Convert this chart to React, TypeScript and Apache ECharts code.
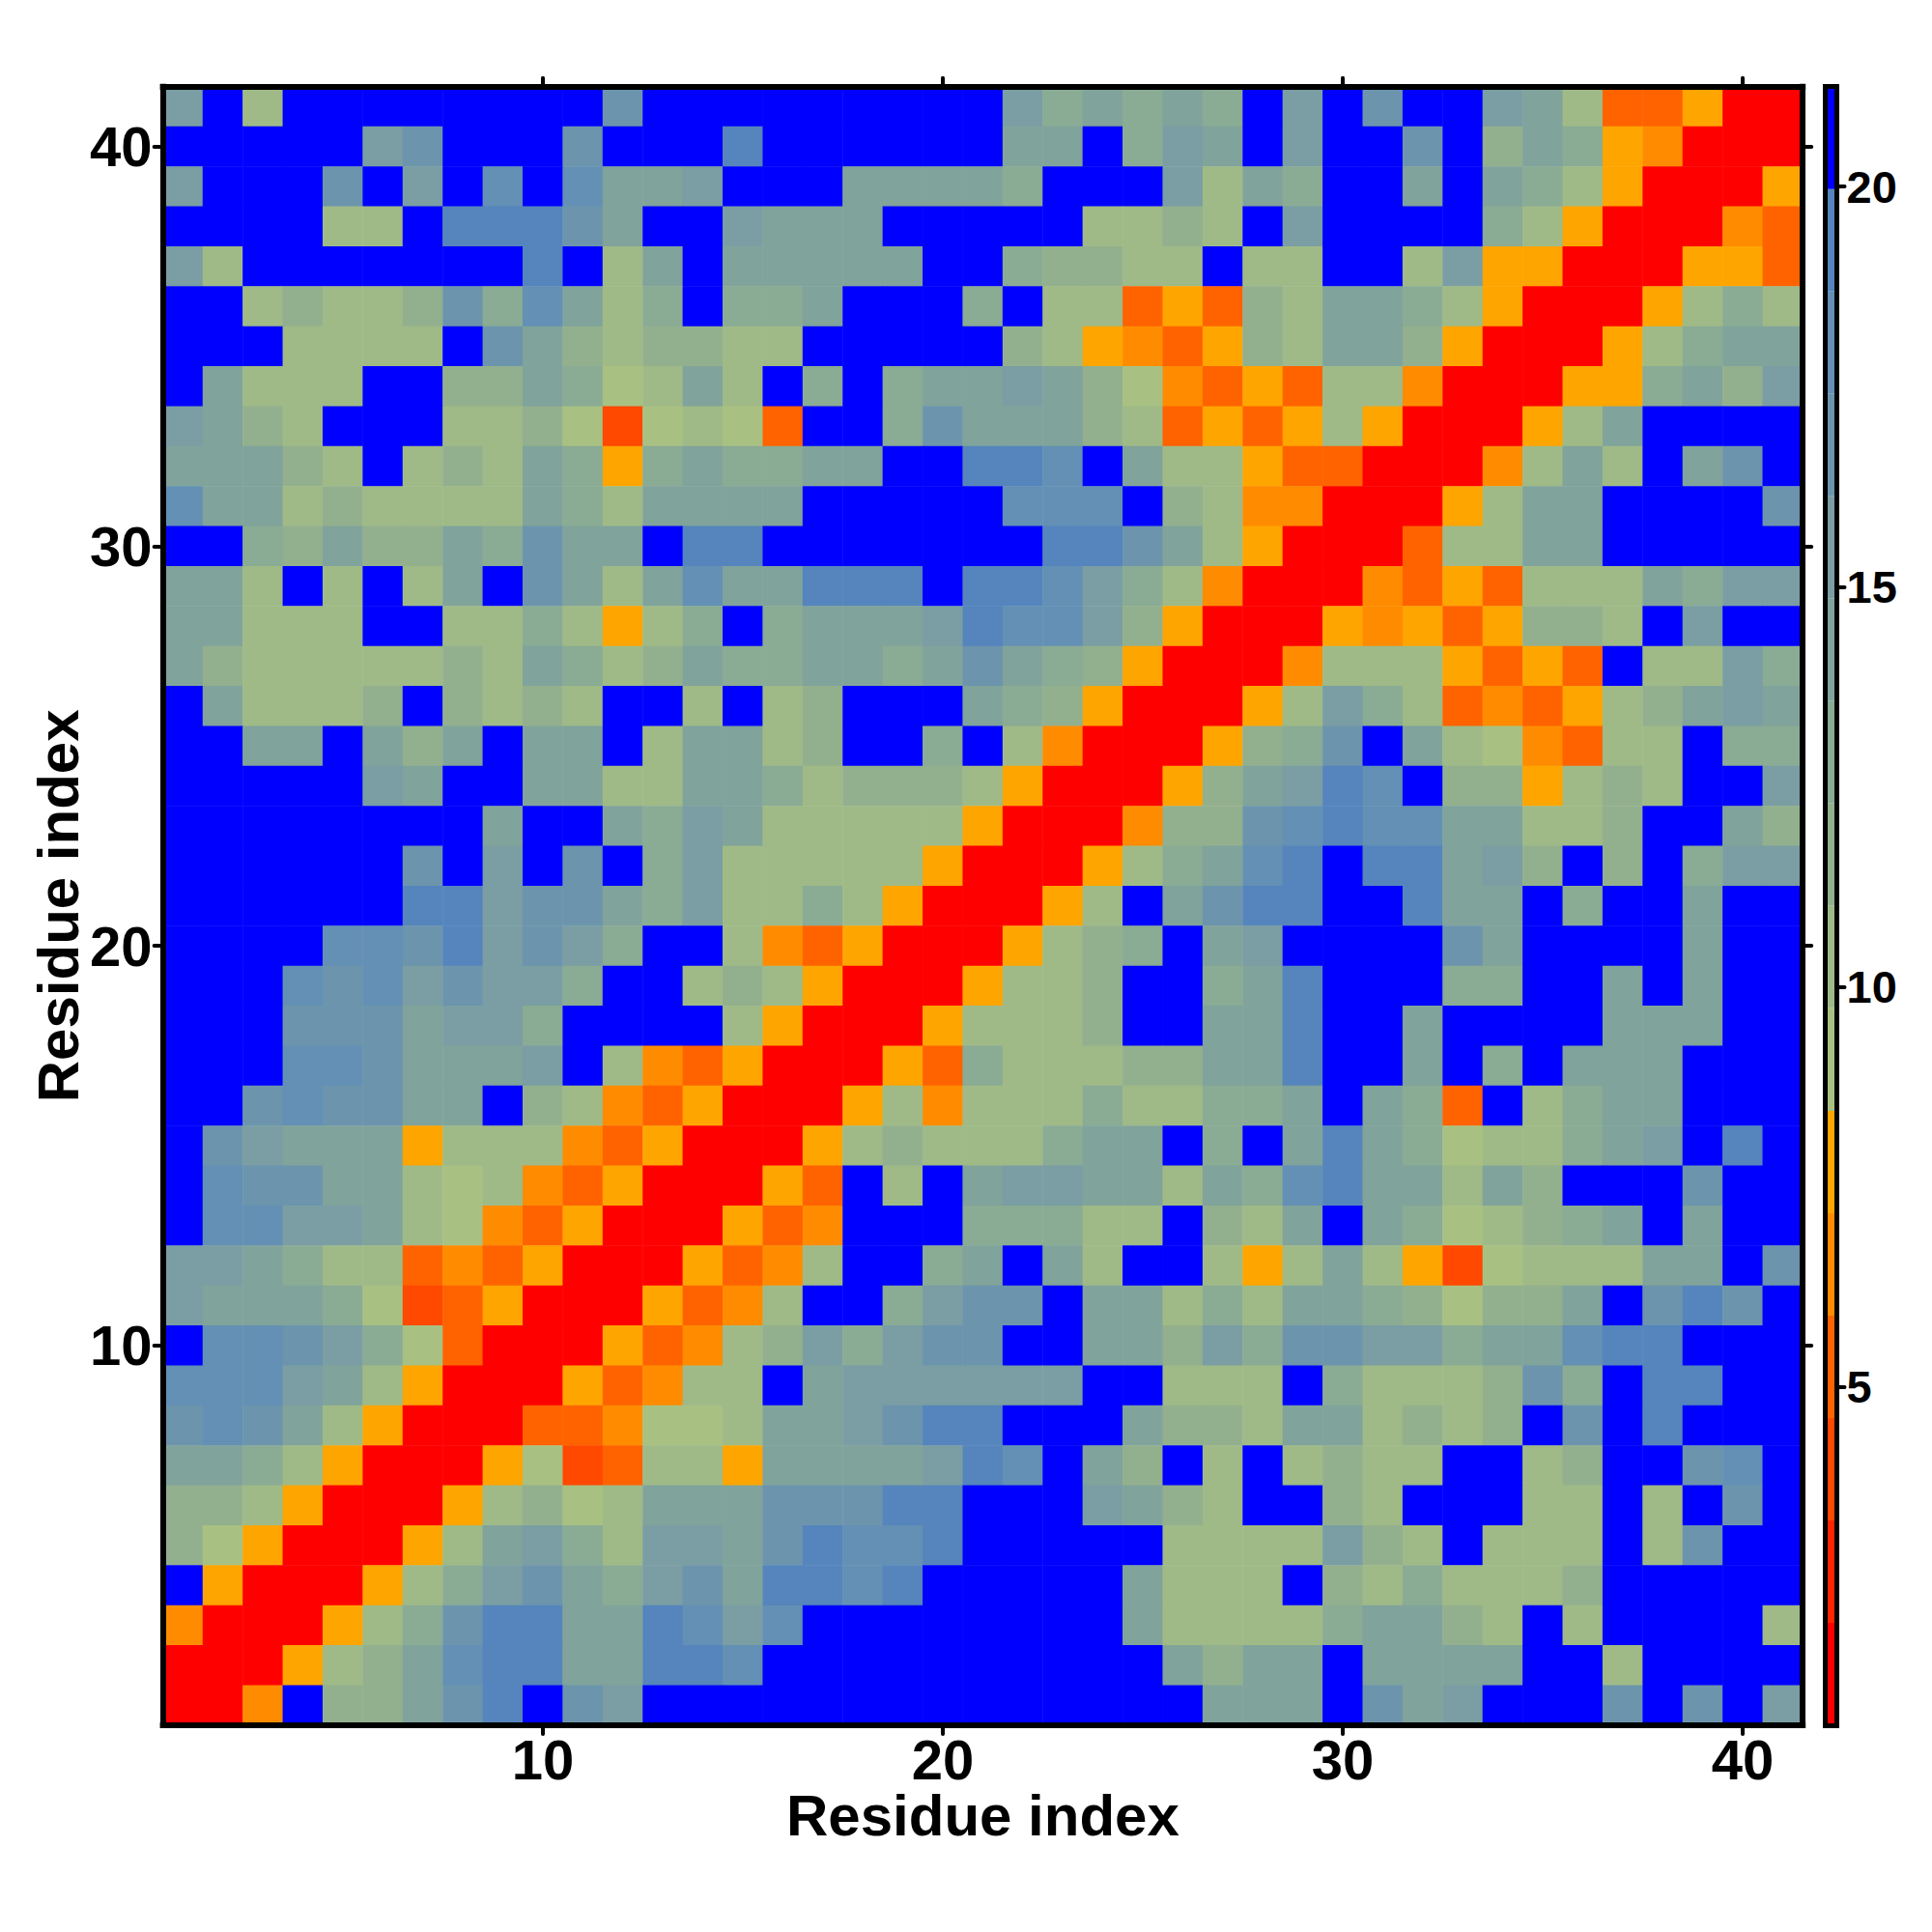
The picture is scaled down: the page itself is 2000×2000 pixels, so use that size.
import React, { useEffect, useRef } from "react";
import * as echarts from "echarts";

// Residue numbers 1..41
const residues: string[] = Array.from({ length: 41 }, (_, i) => String(i + 1));

// Distance values, one list per row, from residue 41 (top) to residue 1 (bottom)
const r41 = [15,21,10,21,21,21,21,21,21,21,21,17,21,21,21,21,21,21,21,21,21,15,13,14,13,14,13,21,15,21,17,21,21,15,14,10,5,5,8,1,1];
const r40 = [21,21,21,21,21,15,17,21,21,21,17,21,21,21,19,21,21,21,21,21,21,14,14,21,13,15,14,21,15,21,21,17,21,12,14,13,8,6,1,1,1];
const r39 = [15,21,21,21,17,21,15,21,18,21,18,14,14,15,21,21,21,14,14,14,14,13,21,21,21,15,10,14,13,21,21,14,21,14,13,10,8,1,1,1,8];
const r38 = [21,21,21,21,10,10,21,19,19,19,17,14,21,21,15,14,14,14,21,21,21,21,21,10,10,12,10,21,15,21,21,21,21,13,10,8,1,1,1,6,5];
const r37 = [15,10,21,21,21,21,21,21,21,19,21,10,14,21,14,14,14,14,14,21,21,13,12,12,10,10,21,10,10,21,21,10,15,8,8,1,1,1,8,8,5];
const r36 = [21,21,10,12,10,10,12,17,13,18,14,10,13,21,13,13,14,21,21,21,13,21,10,10,5,8,5,12,10,14,14,13,10,8,1,1,1,8,10,13,10];
const r35 = [21,21,21,10,10,10,10,21,17,14,12,10,12,12,10,10,21,21,21,21,21,12,10,8,6,5,8,12,10,14,14,12,8,1,1,1,8,10,13,14,14];
const r34 = [21,14,10,10,10,21,21,12,12,14,13,9,10,14,10,21,13,21,13,14,14,15,14,12,9,6,5,8,5,10,10,6,1,1,1,8,8,13,14,12,15];
const r33 = [15,14,12,10,21,21,21,10,10,12,9,4,9,10,9,5,21,21,13,17,14,14,14,12,10,5,8,5,8,10,8,1,1,1,8,10,14,21,21,21,21];
const r32 = [14,14,14,12,10,21,10,12,10,14,13,8,13,14,13,13,14,14,21,21,19,19,18,21,14,10,10,8,5,5,1,1,1,6,10,14,10,21,14,17,21];
const r31 = [18,14,14,10,12,10,10,10,10,14,13,10,14,14,14,14,21,21,21,21,21,18,18,18,21,12,10,6,6,1,1,1,8,10,14,14,21,21,21,21,17];
const r30 = [21,21,13,12,14,12,12,14,13,17,14,14,21,19,19,21,21,21,21,21,21,21,19,19,17,14,10,8,1,1,1,5,10,10,14,14,21,21,21,21,21];
const r29 = [14,14,10,21,10,21,10,14,21,17,14,10,14,18,14,14,19,19,19,21,19,19,18,15,13,10,6,1,1,1,6,5,8,5,10,10,10,14,13,15,15];
const r28 = [14,14,10,10,10,21,21,10,10,13,10,8,10,13,21,13,14,14,14,15,19,18,18,15,12,8,1,1,1,8,6,8,5,8,12,12,10,21,15,21,21];
const r27 = [14,12,10,10,10,10,10,12,10,14,13,10,12,14,13,13,14,14,13,14,17,14,13,12,8,1,1,1,6,10,10,10,8,5,8,5,21,10,10,15,13];
const r26 = [21,14,10,10,10,12,21,12,10,12,10,21,21,10,21,10,12,21,21,21,14,13,12,8,1,1,1,8,10,15,13,10,5,6,5,8,10,12,14,15,14];
const r25 = [21,21,14,14,21,14,12,14,21,14,14,21,10,14,14,10,12,21,21,13,21,10,6,1,1,1,8,12,13,17,21,14,10,9,6,5,10,10,21,13,13];
const r24 = [21,21,21,21,21,15,14,21,21,14,14,10,10,14,14,13,10,12,12,12,10,8,1,1,1,8,12,14,15,19,18,21,12,12,8,10,12,10,21,21,15];
const r23 = [21,21,21,21,21,21,21,21,14,21,21,14,13,15,14,10,10,10,10,10,8,1,1,1,6,12,12,17,18,19,18,18,14,14,10,10,12,21,21,14,12];
const r22 = [21,21,21,21,21,21,17,21,15,21,17,21,13,15,10,10,10,10,10,8,1,1,1,8,10,13,14,18,19,21,19,19,14,15,12,21,12,21,13,15,15];
const r21 = [21,21,21,21,21,21,19,19,15,17,17,14,13,15,10,10,13,10,8,1,1,1,8,10,21,14,17,19,19,21,21,19,14,14,21,13,21,21,14,21,21];
const r20 = [21,21,21,21,18,18,17,19,15,17,15,13,21,21,10,6,5,8,1,1,1,8,10,12,13,21,14,15,21,21,21,21,17,14,21,21,21,21,14,21,21];
const r19 = [21,21,21,18,17,18,15,17,15,15,13,21,21,10,12,10,8,1,1,1,8,10,10,12,21,21,13,14,19,21,21,21,13,13,21,21,14,21,14,21,21];
const r18 = [21,21,21,17,17,17,14,15,15,13,21,21,21,21,10,8,1,1,1,8,10,10,10,12,21,21,14,14,19,21,21,14,21,21,21,21,14,14,14,21,21];
const r17 = [21,21,21,18,18,17,14,14,14,15,21,10,6,5,8,1,1,1,8,5,13,10,10,10,12,12,14,14,19,21,21,14,21,13,21,14,14,14,21,21,21];
const r16 = [21,21,17,18,17,17,14,14,21,12,10,6,5,8,1,1,1,8,10,6,10,10,10,13,10,10,13,13,14,21,14,13,5,21,10,13,14,14,21,21,21];
const r15 = [21,17,15,14,14,14,8,10,10,10,6,5,8,1,1,1,8,10,12,10,10,10,13,14,14,21,13,21,14,19,14,13,9,10,10,13,14,15,21,19,21];
const r14 = [21,18,17,17,14,14,10,9,10,6,5,8,1,1,1,8,5,21,10,21,14,15,15,14,14,10,14,13,18,19,14,14,10,14,12,21,21,21,17,21,21];
const r13 = [21,18,18,15,15,14,10,9,6,5,8,1,1,1,8,5,6,21,21,21,13,13,13,10,10,21,12,10,14,21,14,13,9,10,12,13,14,21,14,21,21];
const r12 = [15,15,14,13,10,10,5,6,5,8,1,1,1,8,5,6,10,21,21,13,14,21,14,10,21,21,10,8,10,14,10,8,4,9,10,10,10,14,14,21,17];
const r11 = [15,14,14,14,13,9,4,5,8,1,1,1,8,5,6,10,21,21,13,15,17,17,21,14,14,10,13,10,14,14,13,12,9,12,12,14,21,17,19,17,21];
const r10 = [21,18,18,17,15,13,9,5,1,1,1,8,5,6,10,12,15,13,15,17,17,21,21,14,14,12,15,13,17,17,15,15,13,14,14,18,19,19,21,21,21];
const r9 = [18,18,18,15,14,10,8,1,1,1,8,5,6,10,10,21,14,15,15,15,15,15,15,21,21,10,10,10,21,13,10,10,10,12,17,13,21,19,19,21,21];
const r8 = [17,18,17,14,10,8,1,1,1,5,5,6,9,9,10,14,14,15,17,19,19,21,21,21,14,12,12,10,14,14,10,12,10,12,21,17,21,19,21,21,21];
const r7 = [14,14,13,10,8,1,1,1,8,9,4,5,10,10,8,14,14,14,14,15,19,18,21,14,12,21,10,21,10,12,10,10,21,21,10,12,21,21,17,18,21];
const r6 = [12,12,10,8,1,1,1,8,10,12,9,10,14,14,14,17,17,17,19,19,21,21,21,15,14,12,10,21,21,12,10,21,21,21,10,10,21,10,21,17,21];
const r5 = [12,9,8,1,1,1,8,10,14,15,13,10,15,15,14,17,19,18,18,19,21,21,21,21,21,10,10,10,10,15,12,10,21,10,10,10,21,10,17,21,21];
const r4 = [21,8,1,1,1,8,10,13,15,17,14,13,15,17,14,19,19,18,19,21,21,21,21,21,14,10,10,10,21,12,10,13,10,10,10,12,21,21,21,21,21];
const r3 = [6,1,1,1,8,10,13,17,19,19,14,14,19,18,15,18,21,21,21,21,21,21,21,21,14,10,10,10,10,13,14,14,12,10,21,10,21,21,21,21,10];
const r2 = [1,1,1,8,10,12,14,18,19,19,14,14,19,19,18,21,21,21,21,21,21,21,21,21,21,14,12,14,14,21,14,14,14,14,21,21,10,21,21,21,21];
const r1 = [1,1,6,21,12,12,14,17,19,21,17,15,21,21,21,21,21,21,21,21,21,21,21,21,21,21,14,14,14,21,17,14,15,21,21,21,17,21,17,21,15];

const rowsTopDown: number[][] = [
  r41, r40, r39, r38, r37, r36, r35, r34, r33, r32, r31, r30, r29, r28,
  r27, r26, r25, r24, r23, r22, r21, r20, r19, r18, r17, r16, r15, r14,
  r13, r12, r11, r10, r9, r8, r7, r6, r5, r4, r3, r2, r1,
];

// Colour bins of the scale
const binEdges = [0.77, 2.05, 3.33, 4.61, 5.89, 7.17, 8.45, 9.73, 11.01, 12.29, 13.57, 14.85, 16.13, 17.41, 18.69, 19.97, 21.25];
const binColors = [
  "#ff0000", "#ff2400", "#ff4800", "#ff6300", "#ff8c00", "#ffa500",
  "#a8c182", "#9fba87", "#93b08e", "#8aab94", "#80a39b", "#7a9ea3",
  "#6c95ad", "#6390b4", "#5585bc", "#0000ff",
];
const colorbarTicks = [5, 10, 15, 20];

const FONT = "Liberation Sans";
const GRID = { left: 168.6, top: 89.7, width: 1697.6, height: 1696.3 };
const BAR = { left: 1889.5, top: 89.7, width: 12, height: 1696.3 };

export default function App() {
  const ref = useRef<HTMLDivElement>(null);

  useEffect(() => {
    const chart = echarts.init(ref.current!, undefined, { renderer: "svg" });
    const cells: number[][] = [];
    rowsTopDown.forEach((row, r) => {
      row.forEach((v, c) => cells.push([c, 40 - r, v]));
    });
    const isDecade = (i: number) => (i + 1) % 10 === 0;
    const frameLine = { show: true, onZero: false, lineStyle: { color: "#000", width: 6, cap: "square" } };
    const tick = (show: boolean) => ({
      show,
      interval: (i: number) => isDecade(i),
      alignWithLabel: true,
      length: 9,
      lineStyle: { color: "#000", width: 4, cap: "round" },
    });
    const catLabel = (show: boolean, margin: number) => ({
      show,
      interval: (i: number) => isDecade(i),
      margin,
      color: "#000",
      fontFamily: FONT,
      fontWeight: "bold",
      fontSize: 58,
    });
    const nameStyle = { color: "#000", fontFamily: FONT, fontWeight: "bold", fontSize: 60 };
    const barLine = { show: true, onZero: false, lineStyle: { color: "#000", width: 5, cap: "square" } };

    chart.setOption({
      animation: false,
      backgroundColor: "#fff",
      grid: [
        { ...GRID, containLabel: false, outerBoundsMode: "none" },
        { ...BAR, containLabel: false, outerBoundsMode: "none" },
      ],
      xAxis: [
        {
          type: "category", data: residues, gridIndex: 0, position: "bottom", z: 10,
          axisLine: frameLine, axisTick: tick(true), axisLabel: catLabel(true, 6), splitLine: { show: false },
          name: "Residue index", nameLocation: "middle", nameGap: 63, nameMoveOverlap: false, nameTextStyle: nameStyle,
        },
        {
          type: "category", data: residues, gridIndex: 0, position: "top", z: 10,
          axisLine: frameLine, axisTick: tick(true), axisLabel: { show: false }, splitLine: { show: false },
        },
        {
          type: "value", min: 0, max: 1, gridIndex: 1, position: "bottom", z: 10,
          axisLine: barLine, axisTick: { show: false }, axisLabel: { show: false }, splitLine: { show: false },
        },
        {
          type: "value", min: 0, max: 1, gridIndex: 1, position: "top", z: 10,
          axisLine: barLine, axisTick: { show: false }, axisLabel: { show: false }, splitLine: { show: false },
        },
      ],
      yAxis: [
        {
          type: "category", data: residues, gridIndex: 0, position: "left", z: 10,
          axisLine: frameLine, axisTick: tick(true), axisLabel: catLabel(true, 11), splitLine: { show: false },
          name: "Residue index", nameLocation: "middle", nameGap: 78, nameMoveOverlap: false, nameTextStyle: nameStyle,
        },
        {
          type: "category", data: residues, gridIndex: 0, position: "right", z: 10,
          axisLine: frameLine, axisTick: tick(true), axisLabel: { show: false }, splitLine: { show: false },
        },
        {
          type: "value", min: binEdges[0], max: binEdges[binEdges.length - 1], scale: true, gridIndex: 1, position: "left", z: 10,
          axisLine: barLine, axisTick: { show: false }, axisLabel: { show: false }, splitLine: { show: false },
        },
        {
          type: "value", min: binEdges[0], max: binEdges[binEdges.length - 1], scale: true, gridIndex: 1, position: "right", z: 10,
          axisLine: barLine,
          axisTick: { show: true, customValues: colorbarTicks, length: 8, lineStyle: { color: "#000", width: 4, cap: "round" } },
          axisLabel: { show: true, customValues: colorbarTicks, margin: 10, color: "#000", fontFamily: FONT, fontWeight: "bold", fontSize: 47, showMinLabel: true, showMaxLabel: true },
          splitLine: { show: false },
        },
      ],
      visualMap: {
        type: "piecewise",
        show: false,
        seriesIndex: 0,
        dimension: 2,
        pieces: binColors.map((color, i) => ({ gt: binEdges[i], lte: binEdges[i + 1], color })),
      },
      series: [
        {
          type: "heatmap",
          xAxisIndex: 0,
          yAxisIndex: 0,
          data: cells,
          z: 1,
          itemStyle: { borderWidth: 0 },
          emphasis: { disabled: true },
          progressive: 0,
        },
        {
          type: "custom",
          xAxisIndex: 2,
          yAxisIndex: 3,
          z: 1,
          data: binColors.map((_, i) => [0, binEdges[i], binEdges[i + 1]]),
          encode: { x: 0, y: [1, 2] },
          renderItem: (params: any, api: any) => {
            const lo = api.coord([0, api.value(1)]);
            const hi = api.coord([1, api.value(2)]);
            return {
              type: "rect",
              shape: { x: lo[0], y: hi[1], width: hi[0] - lo[0], height: lo[1] - hi[1] },
              style: { fill: binColors[params.dataIndex] },
            };
          },
        },
      ],
    });
    return () => chart.dispose();
  }, []);

  return (
    <div
      ref={ref}
      style={{ position: "absolute", left: 0, top: 0, width: 2000, height: 2000, background: "#fff" }}
    />
  );
}
